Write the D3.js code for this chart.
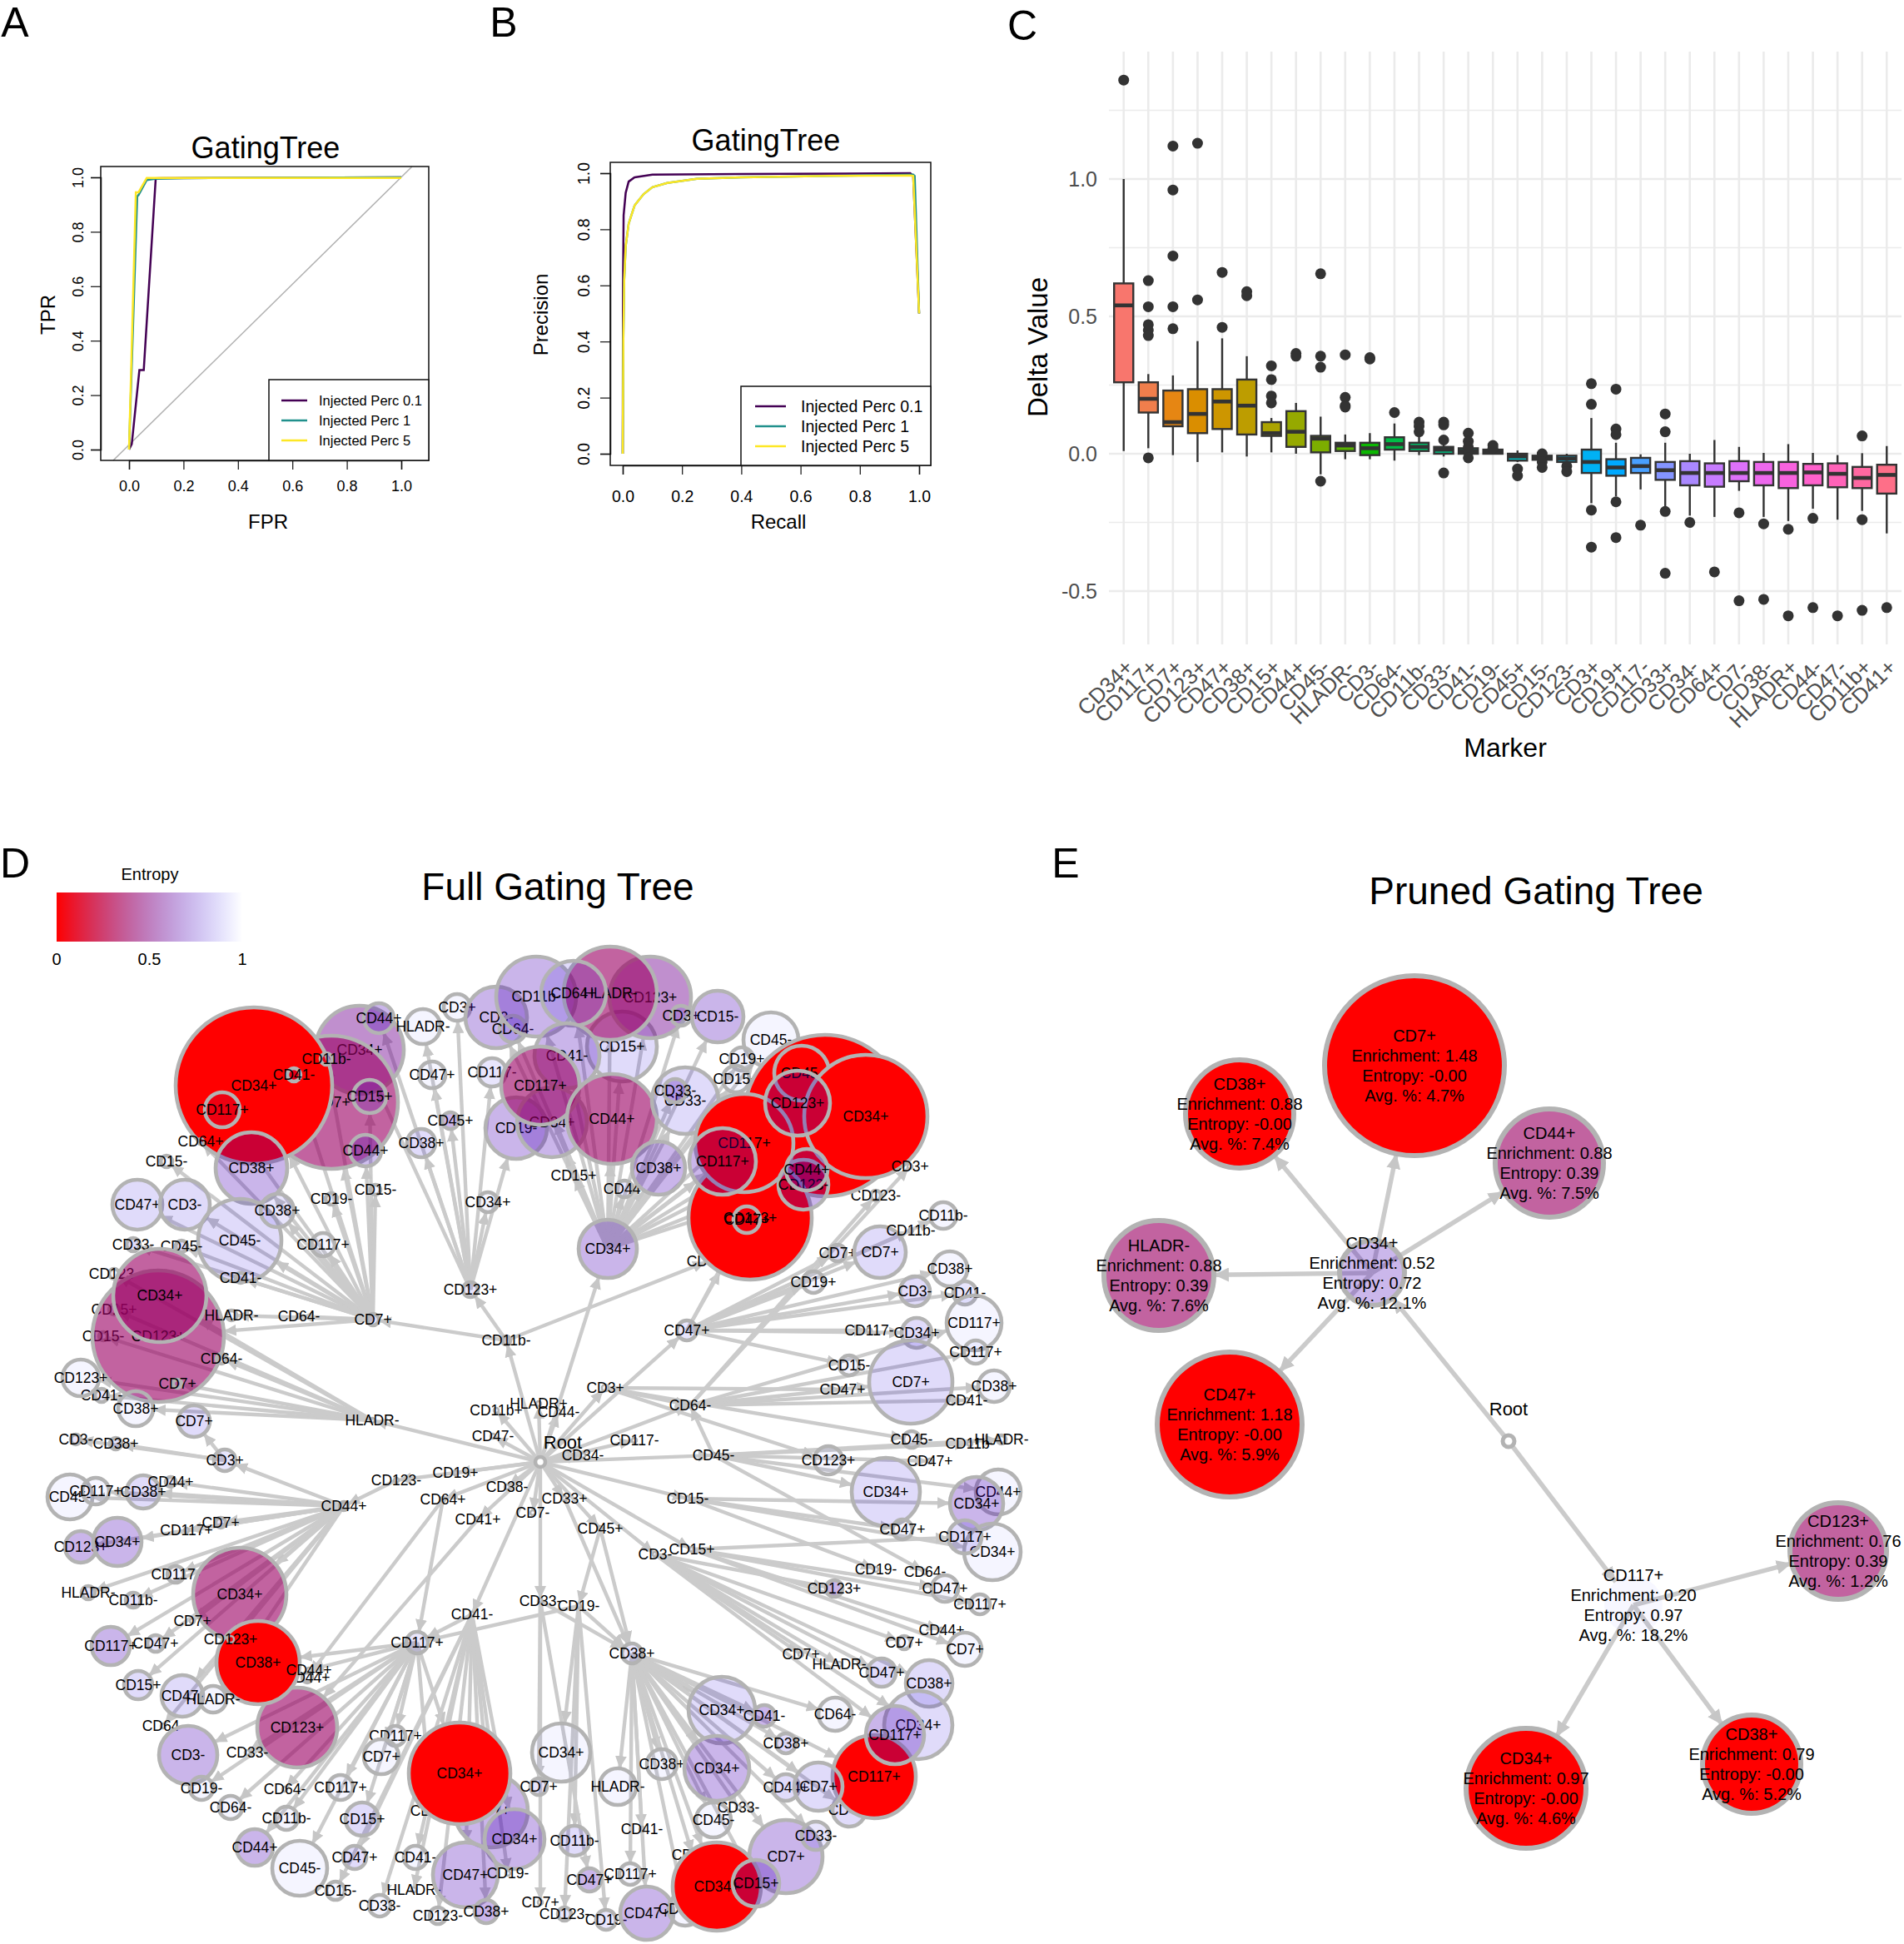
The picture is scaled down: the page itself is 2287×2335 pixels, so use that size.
<!DOCTYPE html>
<html>
<head>
<meta charset="utf-8">
<script src="https://cdn.jsdelivr.net/npm/d3@7"></script>
<style>
  body { margin: 0; background: #fff; }
  text { font-family: "Liberation Sans", Arial, sans-serif; fill: #000; }
</style>
</head>
<body>
<script>
// Panel A / B : ROC and precision-recall curves
var seriesNames = ["Injected Perc 0.1", "Injected Perc 1", "Injected Perc 5"];
var seriesColors = ["#440154", "#21908C", "#FDE725"];
var axisTicks = [0, 0.2, 0.4, 0.6, 0.8, 1];

var rocFpr = [
    [0, 0.01, 0.038, 0.054, 0.098, 0.12, 1],
    [0, 0.03, 0.035, 0.065, 0.1, 0.2, 1],
    [0, 0.025, 0.035, 0.065, 0.1, 0.2, 1]
];
var rocTpr = [
    [0, 0.02, 0.292, 0.292, 0.996, 0.997, 1],
    [0, 0.93, 0.935, 0.99, 0.995, 0.997, 1],
    [0, 0.945, 0.945, 0.998, 0.998, 0.998, 0.998]
];
var prRecall = [
    [0, 0.001, 0.003, 0.01, 0.02, 0.04, 0.1, 0.4, 0.97, 0.98, 1],
    [0, 0.002, 0.005, 0.01, 0.02, 0.04, 0.07, 0.1, 0.15, 0.25, 0.4, 0.7, 0.98, 0.985, 1],
    [0, 0.002, 0.005, 0.01, 0.02, 0.04, 0.07, 0.1, 0.15, 0.25, 0.4, 0.7, 0.97, 0.98, 1]
];
var prPrecision = [
    [0, 0.6, 0.85, 0.93, 0.97, 0.985, 0.995, 0.997, 1, 0.99, 0.5],
    [0, 0.4, 0.62, 0.74, 0.82, 0.885, 0.925, 0.95, 0.965, 0.98, 0.985, 0.99, 0.995, 0.99, 0.5],
    [0, 0.4, 0.62, 0.74, 0.82, 0.885, 0.925, 0.95, 0.965, 0.98, 0.985, 0.99, 0.992, 0.99, 0.5]
];

// Panel C : delta value boxplots
var markers = ["CD34+", "CD117+", "CD7+", "CD123+", "CD47+", "CD38+", "CD15+", "CD44+", "CD45-", "HLADR-", "CD3-", "CD64-", "CD11b-", "CD33-", "CD41-", "CD19-", "CD45+", "CD15-", "CD123-", "CD3+", "CD19+", "CD117-", "CD33+", "CD34-", "CD64+", "CD7-", "CD38-", "HLADR+", "CD44-", "CD47-", "CD11b+", "CD41+"];
var whiskHigh = [1.0, 0.29, 0.285, 0.41, 0.42, 0.355, 0.13, 0.185, 0.135, 0.07, 0.075, 0.11, 0.07, 0.04, 0.035, 0.025, 0.012, 0, 0, 0.13, 0.04, -0.002, 0.04, 0, 0.05, 0.025, 0.003, 0.035, 0.003, -0.005, 0.002, 0.028];
var q3 = [0.62, 0.26, 0.23, 0.235, 0.235, 0.27, 0.115, 0.155, 0.065, 0.04, 0.04, 0.06, 0.04, 0.025, 0.02, 0.015, 0, -0.007, -0.007, 0.015, -0.02, -0.015, -0.03, -0.027, -0.035, -0.027, -0.03, -0.03, -0.037, -0.035, -0.048, -0.04];
var medians = [0.54, 0.2, 0.115, 0.145, 0.19, 0.175, 0.075, 0.08, 0.055, 0.03, 0.02, 0.035, 0.025, 0.015, 0.01, 0.007, -0.01, -0.015, -0.018, -0.03, -0.05, -0.045, -0.06, -0.07, -0.07, -0.07, -0.07, -0.07, -0.068, -0.073, -0.088, -0.077];
var q1 = [0.26, 0.15, 0.1, 0.075, 0.09, 0.07, 0.065, 0.025, 0.005, 0.01, -0.005, 0.015, 0.01, 0, 0, 0, -0.025, -0.022, -0.03, -0.07, -0.08, -0.07, -0.095, -0.115, -0.12, -0.1, -0.115, -0.125, -0.115, -0.122, -0.125, -0.145];
var whiskLow = [0.01, 0.02, -0.005, -0.03, 0.005, -0.01, 0.005, 0, -0.075, -0.02, -0.02, -0.025, -0.005, -0.01, -0.005, -0.003, -0.03, -0.03, -0.04, -0.18, -0.155, -0.13, -0.195, -0.225, -0.23, -0.135, -0.23, -0.245, -0.2, -0.24, -0.208, -0.29];
var outliers = [
    [1.36], [0.63, 0.535, 0.47, 0.45, 0.43, -0.015], [1.12, 0.96, 0.72, 0.535, 0.455], [1.13, 0.56], [0.66, 0.46], [0.59, 0.575],
    [0.32, 0.27, 0.21, 0.185], [0.365, 0.355], [0.655, 0.355, 0.315, -0.1], [0.36, 0.205, 0.175, 0.17], [0.35, 0.345], [0.15],
    [0.115, 0.1, 0.08], [0.115, 0.105, 0.05, -0.07], [0.075, 0.045, 0.025, 0.01, -0.015], [0.03, 0.02], [-0.055, -0.08],
    [0, -0.03, -0.05], [-0.045, -0.065], [0.255, 0.18, -0.205, -0.34], [0.235, 0.09, 0.07, -0.175, -0.305], [-0.26],
    [0.145, 0.08, -0.21, -0.435], [-0.25], [-0.43], [-0.215, -0.535], [-0.255, -0.53], [-0.275, -0.59], [-0.235, -0.56],
    [-0.59], [0.065, -0.24, -0.57], [-0.56]
];
var deltaTicks = [-0.5, 0, 0.5, 1];
var deltaMinor = [-0.25, 0.25, 0.75, 1.25];

// Panel D : full gating tree
// label, layout x, layout y, radius, entropy, parent id, id
var fullTree = [
    ["CD11b-", 608, 1610, 5, 0.96, "root", "cd11bm"],
    ["CD7+", 448, 1585, 7, 0.9, "cd11bm", "cd7"],
    ["CD123+", 565, 1549, 9, 0.9, "cd11bm", "cd123p"],
    ["HLADR-", 447, 1706, 3, 0.96, "root", "hladrm"],
    ["CD44+", 413, 1809, 5, 0.96, "cd123m", "cd44p"],
    ["CD123-", 476, 1778, 3, 0.96, "root", "cd123m"],
    ["CD19+", 547, 1769, 3, 0.96, "root", "cd19p"],
    ["CD38-", 609, 1786, 3, 0.96, "root", "cd38m"],
    ["CD64+", 532, 1801, 3, 0.96, "root", "cd64p"],
    ["CD41+", 574, 1825, 3, 0.96, "root", "cd41p"],
    ["CD7-", 640, 1817, 3, 0.96, "root", "cd7m"],
    ["CD33+", 678, 1800, 3, 0.96, "root", "cd33p"],
    ["CD47-", 592, 1725, 3, 0.96, "root", "cd47m"],
    ["CD11b+", 596, 1694, 3, 0.96, "root", "cd11bp"],
    ["HLADR+", 647, 1686, 3, 0.96, "root", "hladrp"],
    ["CD44-", 671, 1696, 3, 0.96, "root", "cd44m"],
    ["CD45+", 721, 1836, 3, 0.96, "root", "cd45p"],
    ["CD3-", 787, 1867, 3, 0.96, "root", "cd3m"],
    ["CD15+", 831, 1861, 3, 0.96, "root", "cd15p"],
    ["CD15-", 826, 1800, 3, 0.96, "root", "cd15m"],
    ["CD33-", 649, 1923, 3, 0.96, "root", "cd33m"],
    ["CD19-", 695, 1929, 3, 0.96, "cd45p", "cd19m"],
    ["CD38+", 759, 1986, 12, 0.9, "cd33p", "cd38p"],
    ["CD64-", 829, 1688, 3, 0.96, "root", "cd64m"],
    ["CD3+", 727, 1667, 4, 0.96, "root", "cd3p"],
    ["CD47+", 825, 1598, 12, 0.9, "root", "cd47p"],
    ["CD117-", 762, 1730, 3, 0.96, "root", "cd117m"],
    ["CD34-", 700, 1748, 3, 0.96, "root", "cd34m"],
    ["CD45-", 857, 1748, 3, 0.96, "root", "cd45m"],
    ["CD41-", 567, 1939, 3, 0.96, "root", "cd41m"],
    ["CD117+", 501, 1973, 13, 0.9, "cd41m", "cd117p"],
    ["CD3+", 270, 1754, 13, 0.9, "cd44p", "cd3pl"],

    // upper left cluster
    ["CD34+", 432, 1261, 53, 0.56, "cd123p"],
    ["CD44+", 455, 1223, 18, 0.71, "cd123p"],
    ["CD7+", 398, 1324, 80, 0.39, "cd7"],
    ["CD34+", 305, 1304, 94, 0, "cd7"],
    ["CD11b-", 392, 1272, 7, 0.9, "cd7"],
    ["CD41-", 353, 1291, 8, 0.9, "cd7"],
    ["CD117+", 267, 1333, 21, 0.93, "cd7"],
    ["CD15+", 444, 1317, 20, 0.84, "cd7"],
    ["CD44+", 439, 1382, 19, 0.75, "cd7"],
    ["CD64+", 241, 1371, 4, 0.9, "cd7"],
    ["CD38+", 302, 1403, 43, 0.71, "cd7"],
    ["CD15-", 200, 1395, 7, 0.96, "cd7"],
    ["CD47+", 165, 1447, 30, 0.86, "cd7"],
    ["CD3-", 222, 1447, 30, 0.86, "cd7"],
    ["CD45-", 288, 1490, 50, 0.86, "cd7"],
    ["CD38+", 333, 1454, 20, 0.9, "cd7"],
    ["CD19-", 398, 1440, 7, 0.96, "cd7"],
    ["CD15-", 451, 1429, 6, 0.96, "cd7"],
    ["CD117+", 388, 1495, 14, 0.96, "cd7"],
    ["CD33-", 160, 1495, 8, 0.86, "cd7"],
    ["CD45-", 218, 1497, 7, 0.86, "cd7"],
    ["CD41-", 289, 1535, 6, 0.96, "cd7"],
    ["CD123-", 137, 1530, 6, 0.96, "hladrm"],
    ["CD15+", 137, 1573, 6, 0.96, "hladrm"],
    ["CD15-", 124, 1605, 5, 0.96, "hladrm"],
    ["CD123+", 190, 1605, 79, 0.39, "cd7"],
    ["CD7+", 213, 1662, 5, 0.9, "hladrm"],
    ["CD34+", 192, 1556, 56, 0.39, "hladrm"],
    ["HLADR-", 278, 1580, 6, 0.96, "cd7"],
    ["CD64-", 359, 1581, 3, 0.96, "cd7"],
    ["CD64-", 266, 1632, 6, 0.96, "hladrm"],
    ["CD34+", 586, 1444, 12, 0.96, "cd123p"],
    ["CD45+", 541, 1346, 10, 0.71, "cd123p"],
    ["CD38+", 506, 1373, 17, 0.86, "cd123p"],
    ["CD47+", 519, 1291, 16, 0.96, "cd123p"],
    ["HLADR-", 508, 1233, 21, 0.96, "cd123p"],
    ["CD3+", 549, 1210, 16, 0.96, "cd123p"],

    // top cluster
    ["CD3-", 596, 1222, 37, 0.71, "cd34p"],
    ["CD64-", 616, 1236, 16, 0.86, "cd34p"],
    ["CD117-", 591, 1288, 17, 0.9, "cd123p"],
    ["CD11b-", 644, 1197, 48, 0.71, "cd34p"],
    ["CD15+", 747, 1257, 42, 0.86, "cd34p"],
    ["CD123+", 781, 1198, 49, 0.56, "cd34p"],
    ["HLADR-", 733, 1193, 56, 0.39, "cd34p"],
    ["CD64+", 689, 1193, 39, 0.86, "cd34p"],
    ["CD3+", 818, 1220, 12, 0.9, "cd34p"],
    ["CD15-", 862, 1221, 31, 0.71, "cd34p"],
    ["CD41-", 681, 1268, 39, 0.71, "cd34p"],
    ["CD19-", 620, 1355, 37, 0.71, "cd123p"],
    ["CD34+", 663, 1348, 42, 0.71, "cd34p"],
    ["CD117+", 649, 1304, 47, 0.39, "cd34p"],
    ["CD44+", 735, 1344, 54, 0.39, "cd34p"],
    ["CD15+", 689, 1412, 3, 0.96, "cd34p"],
    ["CD44-", 750, 1428, 10, 0.9, "cd34p"],
    ["CD33-", 823, 1322, 40, 0.86, "cd34p"],
    ["CD33-", 811, 1310, 14, 0.71, "cd34p"],
    ["CD38+", 791, 1403, 32, 0.71, "cd34p"],
    ["CD45-", 926, 1249, 33, 0.96, "cd34p"],
    ["CD19+", 891, 1272, 14, 0.96, "cd34p"],
    ["CD15+", 884, 1296, 16, 0.96, "cd34p"],

    // upper right red cluster
    ["CD15-", 850, 1515, 3, 0.96, "cd11bm"],
    ["CD123-", 1052, 1436, 6, 0.96, "cd64m"],
    ["CD47+", 991, 1340, 97, 0, "cd34p"],
    ["CD45-", 963, 1289, 33, 0, "cd34p"],
    ["CD34+", 1040, 1341, 74, 0, "cd34p"],
    ["CD3+", 1093, 1401, 3, 0.96, "cd64m"],
    ["CD123+", 901, 1463, 74, 0, "cd47p"],
    ["CD47+", 897, 1465, 16, 0.96, "cd47p"],
    ["CD117+", 894, 1373, 59, 0, "cd34p"],
    ["CD123-", 965, 1423, 30, 0.71, "cd34p"],
    ["CD44+", 969, 1405, 25, 0.71, "cd34p"],
    ["CD123+", 958, 1325, 39, 0.71, "cd34p"],
    ["CD117+", 868, 1395, 40, 0.71, "cd34p"],
    ["CD34+", 730, 1500, 35, 0.71, "root", "cd34p"],

    // right side
    ["CD7+", 1006, 1505, 10, 0.86, "cd47p"],
    ["CD7+", 1057, 1504, 31, 0.86, "cd47p"],
    ["CD11b-", 1094, 1478, 3, 0.96, "cd47p"],
    ["CD11b-", 1133, 1460, 16, 0.96, "cd47p"],
    ["CD19+", 977, 1540, 13, 0.96, "cd47p"],
    ["CD38+", 1141, 1524, 21, 0.96, "cd47p"],
    ["CD3-", 1099, 1551, 18, 0.86, "cd47p"],
    ["CD41-", 1159, 1553, 14, 0.9, "cd47p"],
    ["CD117+", 1170, 1589, 33, 0.96, "cd64m"],
    ["CD117-", 1044, 1598, 3, 0.96, "cd47p"],
    ["CD34+", 1101, 1601, 18, 0.86, "cd47p"],
    ["CD117+", 1172, 1624, 14, 0.96, "cd64m"],
    ["CD15-", 1020, 1640, 12, 0.96, "cd47p"],
    ["CD7+", 1094, 1660, 50, 0.86, "cd64m"],
    ["CD47+", 1012, 1669, 3, 0.96, "cd3p"],
    ["CD38+", 1194, 1665, 19, 0.96, "cd64m"],
    ["CD41-", 1161, 1682, 3, 0.96, "cd64m"],
    ["CD45-", 1095, 1729, 10, 0.96, "cd3p"],
    ["CD11b-", 1165, 1734, 3, 0.96, "cd45m"],
    ["HLADR-", 1203, 1729, 5, 0.96, "cd45m"],
    ["CD123+", 995, 1754, 17, 0.96, "cd3p"],
    ["CD47+", 1117, 1755, 3, 0.96, "cd45m"],
    ["CD34+", 1064, 1792, 41, 0.86, "cd45m"],
    ["CD44+", 1199, 1792, 27, 0.96, "cd45m"],
    ["CD34+", 1173, 1806, 32, 0.71, "cd15m"],
    ["CD47+", 1084, 1837, 12, 0.96, "cd15m"],
    ["CD34+", 1192, 1864, 34, 0.96, "cd15m"],
    ["CD117+", 1159, 1846, 20, 0.86, "cd15p"],
    ["CD19-", 1052, 1885, 3, 0.96, "cd15m"],
    ["CD64-", 1111, 1888, 3, 0.96, "cd45m"],
    ["CD47+", 1135, 1908, 16, 0.96, "cd15p"],
    ["CD117+", 1177, 1927, 12, 0.96, "cd15p"],
    ["CD123+", 1002, 1908, 10, 0.71, "cd3m"],
    ["CD44+", 1131, 1958, 3, 0.96, "cd15p"],
    ["CD7+", 1086, 1973, 8, 0.96, "cd3m"],
    ["CD7+", 1159, 1981, 20, 0.96, "cd15p"],

    // left side
    ["CD7+", 233, 1707, 19, 0.86, "cd3pl"],
    ["CD38+", 163, 1692, 21, 0.96, "hladrm"],
    ["CD41-", 122, 1676, 8, 0.9, "hladrm"],
    ["CD123+", 97, 1655, 22, 0.96, "hladrm"],
    ["CD3-", 91, 1729, 6, 0.9, "cd3pl"],
    ["CD38+", 139, 1734, 7, 0.9, "cd3pl"],
    ["CD45-", 84, 1798, 27, 0.96, "cd44p"],
    ["CD117+", 115, 1791, 16, 0.96, "cd44p"],
    ["CD38+", 172, 1792, 20, 0.86, "cd44p"],
    ["CD44+", 205, 1780, 6, 0.9, "cd44p"],
    ["CD7+", 265, 1829, 6, 0.9, "cd44p"],
    ["CD117+", 224, 1838, 3, 0.96, "cd44p"],
    ["CD123+", 97, 1858, 19, 0.71, "cd44p"],
    ["CD34+", 141, 1852, 29, 0.71, "cd44p"],
    ["CD117-", 211, 1891, 10, 0.96, "cd44p"],
    ["HLADR-", 106, 1913, 8, 0.9, "cd44p"],
    ["CD11b-", 160, 1922, 9, 0.9, "cd44p"],
    ["CD34+", 288, 1915, 56, 0.39, "cd44p"],
    ["CD7+", 231, 1947, 3, 0.96, "cd44p"],
    ["CD117+", 133, 1977, 23, 0.71, "cd44p"],
    ["CD47+", 187, 1974, 10, 0.9, "cd44p"],
    ["CD15+", 166, 2024, 17, 0.86, "cd44p"],
    ["CD44+", 369, 2015, 6, 0.96, "cd64p"],
    ["CD123+", 357, 2075, 48, 0.39, "cd41p"],
    ["CD38+", 310, 1997, 50, 0, "cd117p"],
    ["CD123+", 277, 1969, 4, 0.96, "cd44p"],
    ["CD44+", 371, 2006, 3, 0.96, "cd117p"],
    ["CD47-", 219, 2037, 25, 0.86, "cd44p"],
    ["HLADR-", 256, 2041, 16, 0.96, "cd44p"],
    ["CD64-", 196, 2073, 3, 0.96, "cd44p"],
    ["CD3-", 226, 2108, 35, 0.71, "cd117p"],
    ["CD33-", 297, 2105, 3, 0.96, "cd117p"],
    ["CD19-", 242, 2148, 14, 0.96, "cd117p"],
    ["CD64-", 277, 2171, 14, 0.96, "cd117p"],
    ["CD64-", 342, 2149, 3, 0.96, "cd117p"],
    ["CD117+", 409, 2147, 15, 0.96, "cd117p"],
    ["CD117+", 475, 2085, 12, 0.96, "cd117p"],
    ["CD7+", 458, 2110, 21, 0.96, "cd117p"],

    // bottom
    ["CD64-", 518, 2175, 3, 0.96, "cd117p"],
    ["CD7+", 590, 2175, 44, 0.71, "cd41m"],
    ["CD34+", 552, 2130, 61, 0, "cd117p"],
    ["CD34+", 618, 2209, 36, 0.71, "cd41m"],
    ["CD11b-", 344, 2184, 14, 0.96, "cd117p"],
    ["CD15+", 435, 2185, 20, 0.86, "cd117p"],
    ["CD44+", 306, 2219, 22, 0.71, "cd117p"],
    ["CD45-", 360, 2244, 33, 0.96, "cd117p"],
    ["CD47+", 426, 2231, 14, 0.86, "cd41m"],
    ["CD15-", 403, 2271, 11, 0.96, "cd41m"],
    ["CD41-", 499, 2231, 14, 0.96, "cd41m"],
    ["HLADR-", 497, 2270, 3, 0.96, "cd41m"],
    ["CD33-", 456, 2289, 13, 0.96, "cd41m"],
    ["CD123-", 526, 2301, 10, 0.96, "cd41m"],
    ["CD47+", 559, 2252, 39, 0.71, "cd41m"],
    ["CD19-", 610, 2250, 3, 0.96, "cd41m"],
    ["CD38+", 584, 2296, 14, 0.71, "cd41m"],
    ["CD7+", 647, 2146, 10, 0.9, "cd33m"],
    ["CD34+", 674, 2105, 35, 0.96, "cd19m"],
    ["HLADR-", 742, 2146, 22, 0.96, "cd38p"],
    ["CD38+", 795, 2119, 18, 0.96, "cd38p"],
    ["CD41-", 771, 2197, 3, 0.96, "cd38p"],
    ["CD11b-", 690, 2211, 18, 0.86, "cd19m"],
    ["CD47+", 708, 2258, 14, 0.71, "cd33m"],
    ["CD117+", 757, 2251, 13, 0.96, "cd38p"],
    ["CD7+", 649, 2285, 3, 0.96, "cd33m"],
    ["CD123-", 678, 2299, 8, 0.9, "cd19m"],
    ["CD19-", 728, 2306, 12, 0.9, "cd19m"],
    ["CD47+", 777, 2298, 32, 0.71, "cd38p"],
    ["CD19-", 832, 2228, 3, 0.96, "cd38p"],
    ["CD123+", 823, 2293, 20, 0.96, "cd38p"],
    ["CD7+", 944, 2230, 44, 0.71, "cd38p"],
    ["CD33-", 980, 2205, 17, 0.9, "cd38p"],
    ["CD34+", 861, 2266, 53, 0, "cd38p"],
    ["CD15+", 908, 2262, 28, 0.71, "cd38p"],
    ["CD45-", 857, 2186, 21, 0.96, "cd38p"],
    ["CD33-", 887, 2171, 3, 0.96, "cd38p"],
    ["CD34+", 867, 2054, 40, 0.86, "cd38p"],
    ["CD34+", 861, 2124, 39, 0.71, "cd38p"],
    ["CD41-", 918, 2061, 13, 0.71, "cd38p"],
    ["CD38+", 944, 2094, 12, 0.86, "cd38p"],
    ["CD44+", 944, 2147, 16, 0.86, "cd38p"],
    ["CD64-", 1003, 2059, 20, 0.96, "cd38p"],
    ["CD7+", 962, 1987, 3, 0.96, "cd3m"],
    ["HLADR-", 1008, 1999, 3, 0.96, "cd3m"],
    ["CD47+", 1059, 2009, 17, 0.86, "cd3m"],
    ["CD38+", 1116, 2022, 28, 0.86, "cd3m"],
    ["CD34+", 1103, 2072, 41, 0.86, "cd3m"],
    ["CD45-", 1020, 2174, 20, 0.86, "cd38p"],
    ["CD117+", 1050, 2134, 50, 0, "cd38p"],
    ["CD7+", 983, 2146, 29, 0.86, "cd38p"],
    ["CD117+", 1075, 2084, 35, 0.71, "cd3m"]
];
// hubs that have a second incoming edge
var extraEdges = [["cd33m", "cd38p"], ["cd19m", "cd38p"], ["cd45p", "cd38p"], ["cd64p", "cd117p"], ["cd3p", "cd64m"], ["cd45m", "cd64m"], ["cd19m", "cd117p"]];

var entropyTicks = [0, 0.5, 1];

// Panel E : pruned tree
var prunedNames = ["CD34+", "CD117+", "CD7+", "CD38+", "CD44+", "HLADR-", "CD47+", "CD123+", "CD34+", "CD38+"];
var prunedEnrichment = ["0.52", "0.20", "1.48", "0.88", "0.88", "0.88", "1.18", "0.76", "0.97", "0.79"];
var prunedEntropy = ["0.72", "0.97", "-0.00", "-0.00", "0.39", "0.39", "-0.00", "0.39", "-0.00", "-0.00"];
var prunedAvg = ["12.1", "18.2", "4.7", "7.4", "7.5", "7.6", "5.9", "1.2", "4.6", "5.2"];
var prunedX = [1648, 1962, 1699, 1489, 1861, 1392, 1477, 2208, 1833, 2104];
var prunedY = [1529, 1928, 1280, 1338, 1397, 1532, 1711, 1863, 2148, 2119];
var prunedSize = [39, 35, 108, 65, 65, 66, 87, 58, 72, 59];
var prunedParent = [-1, -1, 0, 0, 0, 0, 0, 1, 1, 1];
var prunedRoot = [1812, 1731];

var svg = d3.select("body").append("svg")
    .attr("width", 2287)
    .attr("height", 2335);

// panel letters
var panelLetters = [["A", 18, 44], ["B", 605, 44], ["C", 1228, 48], ["D", 18, 1054], ["E", 1280, 1054]];
svg.selectAll(".letter")
    .data(panelLetters)
    .enter()
    .append("text")
    .attr("class", "letter")
    .attr("x", d => d[1])
    .attr("y", d => d[2])
    .attr("text-anchor", "middle")
    .attr("font-size", 50)
    .text(d => d[0]);

// =================================
// base R style line plot, used for A and B
function linePlot(cfg) {
    var x = d3.scaleLinear().domain([0, 1]).range(cfg.xRange);
    var y = d3.scaleLinear().domain([0, 1]).range(cfg.yRange);
    var g = svg.append("g");

    if (cfg.diagonal) {
        var lo = x.invert(cfg.box[0] + 15), hi = x.invert(cfg.box[1] - 20);
        g.append("line")
            .attr("x1", x(lo)).attr("y1", cfg.box[3])
            .attr("x2", x(hi)).attr("y2", cfg.box[2])
            .attr("stroke", "#b0b0b0")
            .attr("stroke-width", 1.5);
    }

    var line = d3.line().x(d => x(d[0])).y(d => y(d[1]));
    cfg.xs.forEach(function (xs, i) {
        g.append("path")
            .attr("d", line(xs.map((v, j) => [v, cfg.ys[i][j]])))
            .attr("fill", "none")
            .attr("stroke", seriesColors[i])
            .attr("stroke-width", 2.5);
    });

    g.append("rect")
        .attr("x", cfg.box[0]).attr("y", cfg.box[2])
        .attr("width", cfg.box[1] - cfg.box[0]).attr("height", cfg.box[3] - cfg.box[2])
        .attr("fill", "none")
        .attr("stroke", "#111")
        .attr("stroke-width", 1.5);

    var xAxis = g.append("g")
        .attr("transform", `translate(0, ${cfg.box[3]})`)
        .call(d3.axisBottom(x).tickValues(axisTicks).tickFormat(d3.format(".1f")).tickSize(11).tickPadding(cfg.xPad));
    var yAxis = g.append("g")
        .attr("transform", `translate(${cfg.box[0]}, 0)`)
        .call(d3.axisLeft(y).tickValues(axisTicks).tickFormat(d3.format(".1f")).tickSize(12).tickPadding(cfg.yPad));
    xAxis.select(".domain").attr("stroke", "#111").attr("stroke-width", 1.5);
    yAxis.select(".domain").attr("stroke", "#111").attr("stroke-width", 1.5);
    xAxis.selectAll("line").attr("stroke", "#111").attr("stroke-width", 1.2);
    yAxis.selectAll("line").attr("stroke", "#111").attr("stroke-width", 1.2);
    xAxis.selectAll("text").attr("font-size", cfg.tickFont).style("font-family", "Liberation Sans");
    yAxis.selectAll("text")
        .attr("font-size", cfg.tickFont)
        .style("font-family", "Liberation Sans")
        .attr("text-anchor", "middle")
        .attr("x", 0)
        .attr("y", 0)
        .attr("dy", 0)
        .attr("transform", `translate(${-cfg.yPad}, 0) rotate(-90)`);

    g.append("text")
        .attr("x", cfg.titleAt[0]).attr("y", cfg.titleAt[1])
        .attr("text-anchor", "middle")
        .attr("font-size", 36)
        .text("GatingTree");
    g.append("text")
        .attr("x", cfg.xLabelAt[0]).attr("y", cfg.xLabelAt[1])
        .attr("text-anchor", "middle")
        .attr("font-size", 24)
        .text(cfg.xLabel);
    g.append("text")
        .attr("transform", `translate(${cfg.yLabelAt[0]}, ${cfg.yLabelAt[1]}) rotate(-90)`)
        .attr("text-anchor", "middle")
        .attr("font-size", 24)
        .text(cfg.yLabel);

    // legend
    var lg = cfg.legend;
    g.append("rect")
        .attr("x", lg.x).attr("y", lg.y)
        .attr("width", cfg.box[1] - lg.x).attr("height", cfg.box[3] - lg.y)
        .attr("fill", "#fff")
        .attr("stroke", "#111")
        .attr("stroke-width", 1.5);
    seriesNames.forEach(function (name, i) {
        var rowY = lg.rows[i];
        g.append("line")
            .attr("x1", lg.line[0]).attr("x2", lg.line[1])
            .attr("y1", rowY).attr("y2", rowY)
            .attr("stroke", seriesColors[i])
            .attr("stroke-width", 2.5);
        g.append("text")
            .attr("x", lg.text).attr("y", rowY)
            .attr("dy", "0.35em")
            .attr("font-size", lg.font)
            .text(name);
    });
}

linePlot({
    xs: rocFpr, ys: rocTpr, box: [121, 515, 200, 553],
    xRange: [155, 482], yRange: [540, 213], diagonal: true,
    xPad: 13, yPad: 21, tickFont: 18,
    titleAt: [319, 190], xLabelAt: [322, 635], yLabelAt: [66, 378],
    xLabel: "FPR", yLabel: "TPR",
    legend: { x: 323, y: 456, rows: [481, 505, 529], line: [338, 369], text: 383, font: 16.5 }
});
linePlot({
    xs: prRecall, ys: prPrecision, box: [733, 1118, 195, 559],
    xRange: [748, 1104], yRange: [545, 208], diagonal: false,
    xPad: 19, yPad: 25, tickFont: 19.5,
    titleAt: [920, 181], xLabelAt: [935, 635], yLabelAt: [658, 378],
    xLabel: "Recall", yLabel: "Precision",
    legend: { x: 890, y: 464, rows: [488, 512, 536], line: [907, 944], text: 962, font: 19.5 }
});

// =================================
// C : ggplot style boxplot
var chartLeft = 1332, chartRight = 2284, chartTop = 62, chartBottom = 774;
var xBand = d3.scaleBand().domain(markers).range([chartLeft, chartRight]).paddingOuter(0.1).paddingInner(0);
var deltaY = d3.scaleLinear().domain([0, 1]).range([545, 215]);
var boxG = svg.append("g");

// ggplot's default hue palette, which is hcl in polar LUV
function hueColor(h) {
    var c = 100, l = 65, rad = h * Math.PI / 180;
    var yy = Math.pow((l + 16) / 116, 3);
    var uu = c * Math.cos(rad) / (13 * l) + 0.19784;
    var vv = c * Math.sin(rad) / (13 * l) + 0.46834;
    var xx = 9 * yy * uu / (4 * vv);
    var zz = -xx / 3 - 5 * yy + 3 * yy / vv;
    var toS = v => {
        v = Math.max(0, Math.min(1, v));
        return 255 * (v <= 0.0031308 ? 12.92 * v : 1.055 * Math.pow(v, 1 / 2.4) - 0.055);
    };
    return d3.rgb(
        toS(3.2406 * xx - 1.5372 * yy - 0.4986 * zz),
        toS(-0.9689 * xx + 1.8758 * yy + 0.0415 * zz),
        toS(0.0557 * xx - 0.204 * yy + 1.057 * zz)
    ).formatHex();
}

boxG.selectAll(".minor")
    .data(deltaMinor)
    .enter()
    .append("line")
    .attr("x1", chartLeft).attr("x2", chartRight)
    .attr("y1", d => deltaY(d)).attr("y2", d => deltaY(d))
    .attr("stroke", "#ebebeb")
    .attr("stroke-width", 1.3);
boxG.selectAll(".major")
    .data(deltaTicks)
    .enter()
    .append("line")
    .attr("x1", chartLeft).attr("x2", chartRight)
    .attr("y1", d => deltaY(d)).attr("y2", d => deltaY(d))
    .attr("stroke", "#ebebeb")
    .attr("stroke-width", 2.6);
boxG.selectAll(".vgrid")
    .data(markers)
    .enter()
    .append("line")
    .attr("x1", d => xBand(d) + xBand.bandwidth() / 2).attr("x2", d => xBand(d) + xBand.bandwidth() / 2)
    .attr("y1", chartTop).attr("y2", chartBottom)
    .attr("stroke", "#ebebeb")
    .attr("stroke-width", 2.6);

var boxWidth = xBand.bandwidth() * 0.78;
markers.forEach(function (m, i) {
    var cx = xBand(m) + xBand.bandwidth() / 2;
    boxG.append("line")
        .attr("x1", cx).attr("x2", cx)
        .attr("y1", deltaY(whiskHigh[i])).attr("y2", deltaY(whiskLow[i]))
        .attr("stroke", "#333")
        .attr("stroke-width", 2.4);
    boxG.append("rect")
        .attr("x", cx - boxWidth / 2)
        .attr("y", deltaY(q3[i]))
        .attr("width", boxWidth)
        .attr("height", deltaY(q1[i]) - deltaY(q3[i]))
        .attr("fill", hueColor(15 + 360 * i / markers.length))
        .attr("stroke", "#333")
        .attr("stroke-width", 2.4);
    boxG.append("line")
        .attr("x1", cx - boxWidth / 2).attr("x2", cx + boxWidth / 2)
        .attr("y1", deltaY(medians[i])).attr("y2", deltaY(medians[i]))
        .attr("stroke", "#333")
        .attr("stroke-width", 4.6);
    boxG.selectAll(null)
        .data(outliers[i])
        .enter()
        .append("circle")
        .attr("cx", cx)
        .attr("cy", d => deltaY(d))
        .attr("r", 6.5)
        .attr("fill", "#333");
});

var deltaAxis = boxG.append("g")
    .attr("transform", `translate(${chartLeft}, 0)`)
    .call(d3.axisLeft(deltaY).tickValues(deltaTicks).tickFormat(d3.format(".1f")).tickSize(0).tickPadding(14));
deltaAxis.select(".domain").remove();
deltaAxis.selectAll("text")
    .attr("font-size", 25)
    .style("fill", "#4d4d4d")
    .style("font-family", "Liberation Sans")
    .text(d => d3.format(".1f")(d).replace("\u2212", "-"));

var markerAxis = boxG.append("g")
    .attr("transform", `translate(0, ${chartBottom})`)
    .call(d3.axisBottom(xBand).tickSize(0));
markerAxis.select(".domain").remove();
markerAxis.selectAll("text")
    .attr("font-size", 26)
    .style("fill", "#4d4d4d")
    .style("font-family", "Liberation Sans")
    .attr("text-anchor", "end")
    .attr("dy", 0)
    .attr("y", 0)
    .attr("transform", "translate(13, 29) rotate(-45)");

boxG.append("text")
    .attr("transform", "translate(1258, 417) rotate(-90)")
    .attr("text-anchor", "middle")
    .attr("font-size", 33)
    .text("Delta Value");
boxG.append("text")
    .attr("x", 1808).attr("y", 909)
    .attr("text-anchor", "middle")
    .attr("font-size", 32)
    .text("Marker");

// =================================
// shared tree helpers
// entropy runs red to blue while the fill fades out, so overlaps mix like in the igraph output
// (d3 drops the hue of a fully clear colour, so the far end keeps a tiny alpha)
var entropyColor = d3.scaleLinear().domain([0, 1]).range(["rgba(255,0,0,1)", "rgba(0,0,255,0.001)"]);
var defs = svg.append("defs");

function arrowMarker(id, len, half) {
    defs.append("marker")
        .attr("id", id)
        .attr("markerUnits", "userSpaceOnUse")
        .attr("markerWidth", len)
        .attr("markerHeight", half * 2)
        .attr("refX", len)
        .attr("refY", half)
        .attr("orient", "auto")
        .append("path")
        .attr("d", `M0,0L${len},${half}L0,${half * 2}Z`)
        .attr("fill", "#c6c6c6");
}
arrowMarker("arrowFull", 15, 7);
arrowMarker("arrowPruned", 18, 8.5);

var gradient = defs.append("linearGradient").attr("id", "entropyBar");
d3.range(0, 1.01, 0.1).forEach(function (t) {
    var col = d3.rgb(entropyColor(t));
    gradient.append("stop")
        .attr("offset", t)
        .attr("stop-color", d3.rgb(col.r, col.g, col.b).formatHex())
        .attr("stop-opacity", col.opacity);
});

function drawEdge(g, s, t, r, marker, width) {
    var dx = t[0] - s[0], dy = t[1] - s[1];
    var len = Math.sqrt(dx * dx + dy * dy);
    g.append("line")
        .attr("x1", s[0]).attr("y1", s[1])
        .attr("x2", t[0] - dx * r / len).attr("y2", t[1] - dy * r / len)
        .attr("stroke", "#cbcbcb")
        .attr("stroke-width", width)
        .attr("marker-end", `url(#${marker})`);
}

// =================================
// D : full gating tree
var treeX = d3.scaleLinear().domain([0, 1240]).range([0, 1240]);
var treeY = d3.scaleLinear().domain([1100, 2335]).range([1100, 2335]);
var rootPos = [649, 1756];
var fullG = svg.append("g");

fullG.append("text")
    .attr("x", 670).attr("y", 1081)
    .attr("text-anchor", "middle")
    .attr("font-size", 46)
    .text("Full Gating Tree");

fullG.append("text")
    .attr("x", 180).attr("y", 1057)
    .attr("text-anchor", "middle")
    .attr("font-size", 20)
    .text("Entropy");
var barX = d3.scaleLinear().domain([0, 1]).range([68, 291]);
fullG.append("rect")
    .attr("x", barX(0)).attr("y", 1072)
    .attr("width", barX(1) - barX(0)).attr("height", 59)
    .attr("fill", "url(#entropyBar)");
fullG.selectAll(".barTick")
    .data(entropyTicks)
    .enter()
    .append("text")
    .attr("x", d => barX(d))
    .attr("y", 1159)
    .attr("text-anchor", "middle")
    .attr("font-size", 20)
    .text(d => d);

var nodePos = { root: rootPos };
var nodeSize = { root: 7 };
fullTree.forEach(function (row) {
    if (row[6]) {
        nodePos[row[6]] = [treeX(row[1]), treeY(row[2])];
        nodeSize[row[6]] = row[3];
    }
});

var edgeG = fullG.append("g");
fullTree.forEach(function (row) {
    drawEdge(edgeG, nodePos[row[5]], [treeX(row[1]), treeY(row[2])], row[3], "arrowFull", 4.4);
});
extraEdges.forEach(function (e) {
    drawEdge(edgeG, nodePos[e[0]], nodePos[e[1]], nodeSize[e[1]], "arrowFull", 4.4);
});

var nodeG = fullG.append("g");
fullTree.forEach(function (row) {
    nodeG.append("circle")
        .attr("cx", treeX(row[1]))
        .attr("cy", treeY(row[2]))
        .attr("r", row[3])
        .attr("fill", entropyColor(row[4]))
        .attr("stroke", "#b3b3b3")
        .attr("stroke-width", row[3] < 5 ? 2.5 : 4.6);
    nodeG.append("text")
        .attr("x", treeX(row[1]))
        .attr("y", treeY(row[2]))
        .attr("dy", "0.35em")
        .attr("text-anchor", "middle")
        .attr("font-size", 17.5)
        .text(row[0]);
});

nodeG.append("circle")
    .attr("cx", rootPos[0]).attr("cy", rootPos[1])
    .attr("r", 6)
    .attr("fill", "#fff")
    .attr("stroke", "#b3b3b3")
    .attr("stroke-width", 4.6);
nodeG.append("text")
    .attr("x", 676).attr("y", 1740)
    .attr("text-anchor", "middle")
    .attr("font-size", 22)
    .text("Root");

// =================================
// E : pruned tree
var prunedG = svg.append("g");
prunedG.append("text")
    .attr("x", 1845).attr("y", 1086)
    .attr("text-anchor", "middle")
    .attr("font-size", 46)
    .text("Pruned Gating Tree");

var rootPt = prunedRoot;
prunedNames.forEach(function (name, i) {
    var p = [prunedX[i], prunedY[i]];
    if (prunedParent[i] < 0) {
        drawEdge(prunedG, rootPt, p, prunedSize[i], "arrowPruned", 5.5);
    } else {
        var k = prunedParent[i];
        drawEdge(prunedG, [prunedX[k], prunedY[k]], p, prunedSize[i], "arrowPruned", 5.5);
    }
});

prunedNames.forEach(function (name, i) {
    prunedG.append("circle")
        .attr("cx", prunedX[i]).attr("cy", prunedY[i])
        .attr("r", prunedSize[i])
        .attr("fill", entropyColor(+prunedEntropy[i] < 0 ? 0 : +prunedEntropy[i]))
        .attr("stroke", i === 1 ? "none" : "#b3b3b3")
        .attr("stroke-width", 6);
    var lines = [name, "Enrichment: " + prunedEnrichment[i], "Entropy: " + prunedEntropy[i], "Avg. %: " + prunedAvg[i] + "%"];
    prunedG.selectAll(null)
        .data(lines)
        .enter()
        .append("text")
        .attr("x", prunedX[i])
        .attr("y", (d, j) => prunedY[i] + (j - 1.5) * 24)
        .attr("dy", "0.35em")
        .attr("text-anchor", "middle")
        .attr("font-size", 20)
        .text(d => d);
});

prunedG.append("circle")
    .attr("cx", rootPt[0]).attr("cy", rootPt[1])
    .attr("r", 7)
    .attr("fill", "#fff")
    .attr("stroke", "#b3b3b3")
    .attr("stroke-width", 5);
prunedG.append("text")
    .attr("x", 1812).attr("y", 1700)
    .attr("text-anchor", "middle")
    .attr("font-size", 22)
    .text("Root");
</script>
</body>
</html>
